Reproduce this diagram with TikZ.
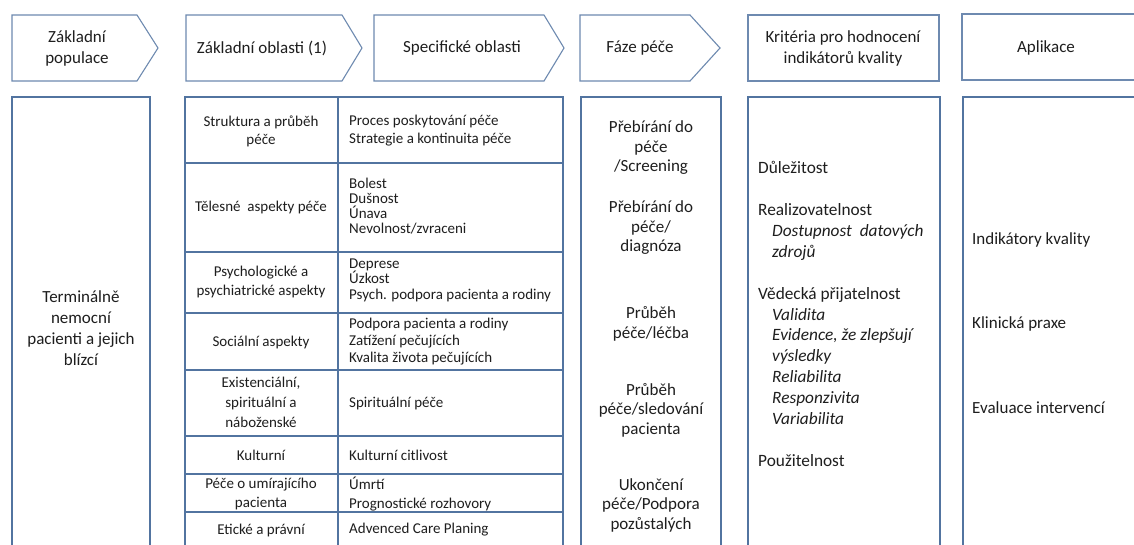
\documentclass[tikz,border=0pt]{standalone}
\usepackage{fontspec}
\setmainfont{Carlito}
\definecolor{boxblue}{RGB}{82,116,160}
\definecolor{hdrblue}{RGB}{110,138,176}
\definecolor{txt}{RGB}{30,30,30}
\begin{document}
\begin{tikzpicture}[x=1pt,y=-1pt,
  box/.style={draw=boxblue,line width=1.5pt},
  hbox/.style={draw=hdrblue,line width=1.1pt},
  hdr/.style={font=\fontsize{17}{21}\selectfont,text=txt,align=center,inner sep=0pt},
  cell/.style={font=\fontsize{15}{19}\selectfont,text=txt,align=center,inner sep=0pt},
  item/.style={font=\fontsize{15}{15.5}\selectfont,text=txt,align=left,anchor=west,inner sep=0pt},
  phase/.style={font=\fontsize{17}{19.5}\selectfont,text=txt,align=center,inner sep=0pt},
  crit/.style={font=\fontsize{17.3}{20.9}\selectfont,text=txt,align=left,anchor=west,inner sep=0pt},
  app/.style={font=\fontsize{17}{21}\selectfont,text=txt,anchor=west,inner sep=0pt}]
\clip (0,0) rectangle (1134,544);
\fill[white] (0,0) rectangle (1134,544);
% header shapes
\draw[hbox] (12,15) -- (137,15) -- (158,48) -- (137,81) -- (12,81) -- cycle;
\draw[hbox] (186,15) -- (342,15) -- (362,48) -- (342,81) -- (186,81) -- cycle;
\draw[hbox] (374,15) -- (544,15) -- (564,48) -- (544,81) -- (374,81) -- cycle;
\draw[hbox] (580,15) -- (690,15) -- (720,48) -- (690,81) -- (580,81) -- cycle;
\draw[hbox] (748,15) rectangle (939,81);
\draw[hbox] (962,14) rectangle (1150,80);
\node[hdr] (h1) at (77,48) {Základní\\populace};
\node[hdr] (h2) at (262,48) {Základní oblasti (1)};
\node[hdr] (h3) at (462,48) {Specifické oblasti};
\node[hdr] (h4) at (640,48) {Fáze péče};
\node[hdr] (h5) at (843,48) {Kritéria pro hodnocení\\indikátorů kvality};
\node[hdr] (h6) at (1046,48) {Aplikace};
% body boxes
\draw[box] (12,97) rectangle (150,560);
\draw[box] (185,97) rectangle (563,560);
\draw[box] (338,97) -- (338,560);
\foreach \yy in {163,252,313,370,436,474,512}
  \draw[box] (185,\yy) -- (563,\yy);
\draw[box] (581,97) rectangle (721,560);
\draw[box] (748,97) rectangle (940,560);
\draw[box] (963,97) rectangle (1150,560);
% population
\node[phase,font=\fontsize{17}{21}\selectfont] (pop) at (81,328) {Terminálně\\nemocní\\pacienti a jejich\\blízcí};
% table left column
\node[cell,font=\fontsize{15}{18}\selectfont] (l1) at (261,131) {Struktura a průběh\\péče};
\node[cell] (l2) at (261,207) {Tělesné\ \ aspekty péče};
\node[cell] (l3) at (261,282) {Psychologické a\\psychiatrické aspekty};
\node[cell] (l4) at (261,342) {Sociální aspekty};
\node[cell,font=\fontsize{15}{20}\selectfont] (l5) at (261,402) {Existenciální,\\spirituální a\\náboženské};
\node[cell] (l6) at (261,455) {Kulturní};
\node[cell,font=\fontsize{15}{18.5}\selectfont] (l7) at (261,494) {Péče o umírajícího\\pacienta};
\node[cell] (l8) at (261,530) {Etické a právní};
% table right column
\node[item,font=\fontsize{15}{18}\selectfont] (r1) at (349,131) {Proces poskytování péče\\Strategie a kontinuita péče};
\node[item,font=\fontsize{15}{14.8}\selectfont] (r2) at (349,206) {Bolest\\Dušnost\\Únava\\Nevolnost/zvraceni};
\node[item] (r3) at (349,280) {Deprese\\Úzkost\\Psych. podpora pacienta a rodiny};
\node[item,font=\fontsize{15}{17}\selectfont] (r4) at (349,342) {Podpora pacienta a rodiny\\Zatížení pečujících\\Kvalita života pečujících};
\node[item] (r5) at (349,403) {Spirituální péče};
\node[item] (r6) at (349,455) {Kulturní citlivost};
\node[item,font=\fontsize{15}{18.5}\selectfont] (r7) at (349,494) {Úmrtí\\Prognostické rozhovory};
\node[item] (r8) at (349,530) {Advenced Care Planing};
% phases
\node[phase] (p1) at (651,148) {Přebírání do\\péče\\/Screening};
\node[phase] (p2) at (651,228) {Přebírání do\\péče/\\diagnóza};
\node[phase] (p3) at (651,324) {Průběh\\péče/léčba};
\node[phase] (p4) at (651,410) {Průběh\\péče/sledování\\pacienta};
\node[phase] (p5) at (651,505) {Ukončení\\péče/Podpora\\pozůstalých};
% criteria
\node[crit] (c1) at (758,314) {Důležitost\\ \mbox{}\\ Realizovatelnost\\
  \hspace*{14pt}\textit{Dostupnost\ \ datových}\\ \hspace*{14pt}\textit{zdrojů}\\ \mbox{}\\
  Vědecká přijatelnost\\ \hspace*{14pt}\textit{Validita}\\ \hspace*{14pt}\textit{Evidence, že zlepšují}\\
  \hspace*{14pt}\textit{výsledky}\\ \hspace*{14pt}\textit{Reliabilita}\\ \hspace*{14pt}\textit{Responzivita}\\
  \hspace*{14pt}\textit{Variabilita}\\ \mbox{}\\ Použitelnost};
% application
\node[app] (a1) at (972,240) {Indikátory kvality};
\node[app] (a2) at (972,324) {Klinická praxe};
\node[app] (a3) at (972,408) {Evaluace intervencí};
\end{tikzpicture}
\end{document}
